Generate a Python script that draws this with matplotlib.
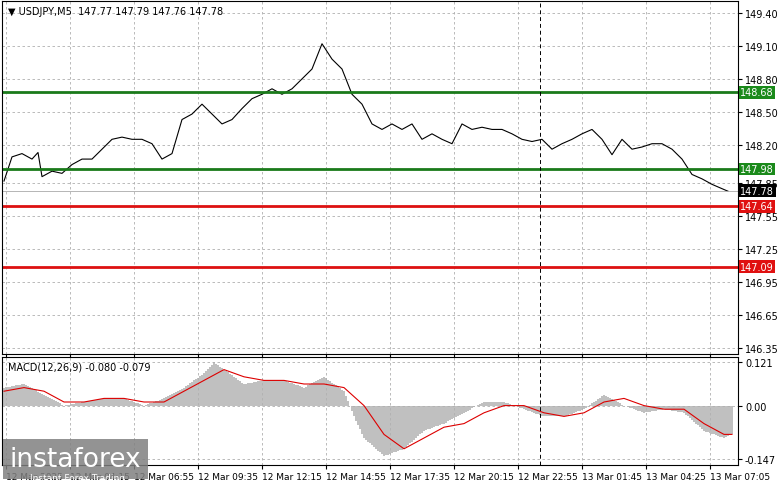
import matplotlib
matplotlib.use("Agg")
import matplotlib.pyplot as plt
import numpy as np

# price anchors (bar index, price)
px_bar = [0,4,9,14,17,19,24,29,34,39,44,49,54,59,64,69,74,79,84,89,94,99,104,109,114,119,124,129,134,139,144,149,154,159,164,169,174,179,184,189,194,199,204,209,214,219,224,229,234,239,244,249,254,259,264,269,274,279,284,289,294,299,304,309,314,319,324,329,334,339,344,349,354,359,363]
px_val = [147.87,148.09,148.12,148.07,148.13,147.91,147.96,147.94,148.02,148.07,148.07,148.16,148.25,148.27,148.25,148.25,148.21,148.07,148.12,148.43,148.48,148.57,148.48,148.39,148.43,148.53,148.62,148.66,148.71,148.66,148.71,148.80,148.89,149.12,148.98,148.89,148.66,148.57,148.39,148.34,148.39,148.34,148.39,148.25,148.30,148.25,148.21,148.39,148.34,148.36,148.34,148.34,148.30,148.25,148.23,148.25,148.16,148.21,148.25,148.30,148.34,148.25,148.11,148.25,148.16,148.18,148.21,148.21,148.16,148.07,147.93,147.89,147.84,147.80,147.77]
# MACD histogram anchors and signal anchors
mh_bar = [0,10,20,30,40,50,60,70,80,90,100,105,110,120,130,140,150,160,170,175,180,190,200,210,220,230,240,250,260,270,280,290,300,310,320,330,340,350,360,364]
mh_val = [0.05,0.06,0.03,0.0,0.01,0.02,0.02,0.0,0.02,0.05,0.09,0.12,0.10,0.06,0.07,0.07,0.05,0.08,0.04,-0.03,-0.09,-0.14,-0.12,-0.07,-0.05,-0.02,0.01,0.01,-0.01,-0.03,-0.03,-0.01,0.03,0.0,-0.02,-0.01,-0.02,-0.07,-0.09,-0.08]
sg_bar = [0,10,20,30,40,50,60,70,80,90,100,110,120,130,140,150,160,170,180,190,200,210,220,230,240,250,260,270,280,290,300,310,320,330,340,350,360,364]
sg_val = [0.04,0.05,0.04,0.01,0.01,0.02,0.02,0.01,0.01,0.04,0.07,0.10,0.08,0.07,0.07,0.06,0.06,0.05,0.0,-0.08,-0.12,-0.09,-0.06,-0.05,-0.02,0.0,0.0,-0.02,-0.03,-0.02,0.01,0.02,0.0,-0.01,-0.01,-0.05,-0.08,-0.08]
levels_green = [148.68, 147.98]
levels_red = [147.64, 147.09]
yticks = [149.40,149.10,148.80,148.50,148.20,147.85,147.55,147.25,146.95,146.65,146.35]
xlabels = ["12 Mar 2025","12 Mar 04:15","12 Mar 06:55","12 Mar 09:35","12 Mar 12:15","12 Mar 14:55","12 Mar 17:35","12 Mar 20:15","12 Mar 22:55","13 Mar 01:45","13 Mar 04:25","13 Mar 07:05"]

N = 365
bars = np.arange(N)
price = np.interp(bars, px_bar, px_val)
hist = np.interp(bars, mh_bar, mh_val)
sig = np.interp(bars, sg_bar, sg_val)

fig = plt.figure(figsize=(7.81,4.89), dpi=100)
W, H = 781, 489
ax = fig.add_axes([2/W, 1-355/H, 736/W, 353/H])
ax2 = fig.add_axes([2/W, 1-466/H, 736/W, 108/H])
xt = [1+32*i for i in range(12)]
for a in (ax, ax2):
    a.set_xlim(-1, 367)
    a.set_xticks(xt)
    a.grid(True, color='#b0b0b0', ls=(0,(3,3)), lw=0.6)
    a.yaxis.tick_right()
    a.tick_params(labelsize=7, length=3, direction='out', pad=2)
    for s in a.spines.values():
        s.set_color('black'); s.set_linewidth(0.8)
ax.set_xticklabels([])
ax2.set_xticklabels(xlabels, fontsize=6.5, ha='left')
ax.plot(bars[:363], price[:363], color='black', lw=0.8)
ymax = 149.40 + 12/109.8; ymin = 146.35 - 6/109.8
ax.set_ylim(ymin, ymax)
ax.set_yticks(yticks)
ax.set_yticklabels([f"{v:.2f}" for v in yticks])
for v in levels_green:
    ax.axhline(v, color='#1a7a1a', lw=2)
    ax.text(1.003, v, f"{v:.2f}", transform=ax.get_yaxis_transform(), fontsize=7, color='white', va='center', ha='left', bbox=dict(boxstyle='square,pad=0.15', fc='#1a8a1a', ec='none'))
for v in levels_red:
    ax.axhline(v, color='#dd1111', lw=2)
    ax.text(1.003, v, f"{v:.2f}", transform=ax.get_yaxis_transform(), fontsize=7, color='white', va='center', ha='left', bbox=dict(boxstyle='square,pad=0.15', fc='#e01010', ec='none'))
ax.axhline(147.78, color='#aaaaaa', lw=0.6)
ax.text(1.003, 147.78, "147.78", transform=ax.get_yaxis_transform(), fontsize=7, color='white', va='center', ha='left', bbox=dict(boxstyle='square,pad=0.15', fc='black', ec='none'))
ax.axvline(268, color='black', ls=(0,(4,3)), lw=0.7)
ax2.axvline(268, color='black', ls=(0,(4,3)), lw=0.7)
ax.text(0.008, 0.985, "▼ USDJPY,M5  147.77 147.79 147.76 147.78", transform=ax.transAxes, fontsize=7, va='top')

ax2.bar(bars, hist, width=1.0, color='#c0c0c0')
ax2.plot(bars, sig, color='#dd0000', lw=0.8)
ax2.set_ylim(-0.165, 0.135)
ax2.set_yticks([0.121, 0.0, -0.147])
ax2.set_yticklabels(["0.121", "0.00", "-0.147"])
ax2.text(0.008, 0.96, "MACD(12,26,9) -0.080 -0.079", transform=ax2.transAxes, fontsize=7, va='top')

fig.text(10/W, 1-460/H, "instaforex", fontsize=19, color='white', va='center', ha='left',
         bbox=dict(boxstyle='square,pad=0.25', fc='#808080', ec='none', alpha=0.85))
fig.text(30/W, 1-479/H, "Instant Forex Trading", fontsize=6.5, color='white', va='center')
fig.savefig("out.png", dpi=100, facecolor='white')
